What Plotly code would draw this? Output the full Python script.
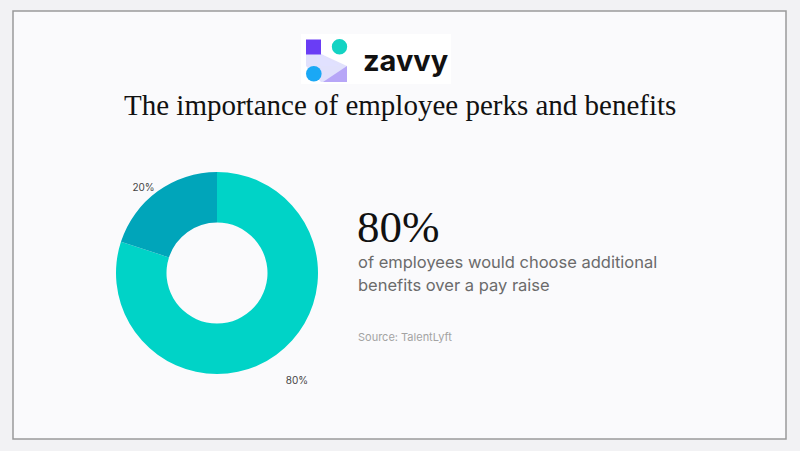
import plotly.graph_objects as go

# ---- data ----
labels = ["Additional benefits", "Pay raise"]
values = [80, 20]
slice_colors = ["#00d3c7", "#00a5ba"]
label_templates = ["&nbsp;<br>&nbsp;<br>%{percent:.0%}", "%{percent:.0%}"]

title_text = "The importance of employee perks and benefits"
headline = "80%"
body_lines = ["of employees would choose additional", "benefits over a pay raise"]
source_text = "Source: TalentLyft"
brand = "zavvy"

W, H = 800, 451


def px(x):
    return x / W


def py(y):
    return 1 - y / H


fig = go.Figure()

R = 101
CX, CY = 217, 273
fig.add_trace(go.Pie(
    labels=labels,
    values=values,
    hole=0.5,
    sort=False,
    direction="clockwise",
    rotation=0,
    marker=dict(colors=slice_colors, line=dict(width=0)),
    textinfo="percent",
    textposition="outside",
    texttemplate=label_templates,
    outsidetextfont=dict(family="Inter", size=10, color="#444444"),
    showlegend=False,
    hoverinfo="label+percent",
    domain=dict(x=[px(CX - R), px(CX + R)], y=[py(CY + R), py(CY - R)]),
))

shapes = []
# frame
shapes.append(dict(type="rect", xref="paper", yref="paper",
                   x0=px(13), x1=px(786), y0=py(439), y1=py(11),
                   fillcolor="#fafafc", line=dict(color="#9a9a9a", width=1.5), layer="below"))
# logo background
shapes.append(dict(type="rect", xref="paper", yref="paper",
                   x0=px(301), x1=px(451), y0=py(84), y1=py(34),
                   fillcolor="#ffffff", line=dict(width=0), layer="below"))


def poly(pts, color):
    path = "M " + " L ".join(f"{px(x)},{py(y)}" for x, y in pts) + " Z"
    return dict(type="path", xref="paper", yref="paper", path=path,
                fillcolor=color, line=dict(width=0))


# logo pale gradient band
shapes.append(poly([(306, 54), (321, 54), (347, 66), (347, 82), (321, 82), (306, 66)], "rgba(200,200,250,0.55)"))
shapes.append(poly([(314, 54), (321, 54), (340, 66), (321, 66)], "rgba(225,225,255,0.8)"))
# lavender triangle
shapes.append(poly([(347, 66), (347, 82), (323, 82)], "#b7a6f7"))
# purple square
shapes.append(dict(type="rect", xref="paper", yref="paper",
                   x0=px(306), x1=px(321), y0=py(54.5), y1=py(39.5),
                   fillcolor="#6a3df5", line=dict(width=0)))
# teal circle
shapes.append(dict(type="circle", xref="paper", yref="paper",
                   x0=px(331.8), x1=px(347.2), y0=py(54.4), y1=py(39),
                   fillcolor="#13d3c3", line=dict(width=0)))
# blue circle
shapes.append(dict(type="circle", xref="paper", yref="paper",
                   x0=px(306), x1=px(321.6), y0=py(81.6), y1=py(66),
                   fillcolor="#1aa8f5", line=dict(width=0)))

annotations = [
    dict(text=f"<b>{brand}</b>", x=px(361), y=py(60), xanchor="left", yanchor="middle",
         font=dict(family="Inter", size=29, color="#111111")),
    dict(text=title_text, x=0.5, y=py(105), xanchor="center", yanchor="middle",
         font=dict(family="Liberation Serif", size=29, color="#111111")),
    dict(text=headline, x=px(355), y=py(227), xanchor="left", yanchor="middle",
         font=dict(family="Liberation Serif", size=45, color="#111111")),
    dict(text=body_lines[0], x=px(356), y=py(262), xanchor="left", yanchor="middle",
         font=dict(family="Inter", size=16.5, color="#6b6b6b")),
    dict(text=body_lines[1], x=px(356), y=py(285), xanchor="left", yanchor="middle",
         font=dict(family="Inter", size=16.5, color="#6b6b6b")),
    dict(text=source_text, x=px(356), y=py(337), xanchor="left", yanchor="middle",
         font=dict(family="Inter", size=11, color="#a3a3a3")),
]
for a in annotations:
    a.update(xref="paper", yref="paper", showarrow=False)

fig.update_layout(
    width=W, height=H,
    margin=dict(l=0, r=0, t=0, b=0),
    paper_bgcolor="#f2f2f4",
    plot_bgcolor="#fafafc",
    shapes=shapes,
    annotations=annotations,
)

fig.write_html("out.html", config={"displayModeBar": False})

# remove default body margin so the 800x451 figure fills the window exactly
with open("out.html", "r", encoding="utf-8") as f:
    html = f.read()
html = html.replace("<head>", "<head><style>html,body{margin:0;padding:0;overflow:hidden;}</style>", 1)
with open("out.html", "w", encoding="utf-8") as f:
    f.write(html)
